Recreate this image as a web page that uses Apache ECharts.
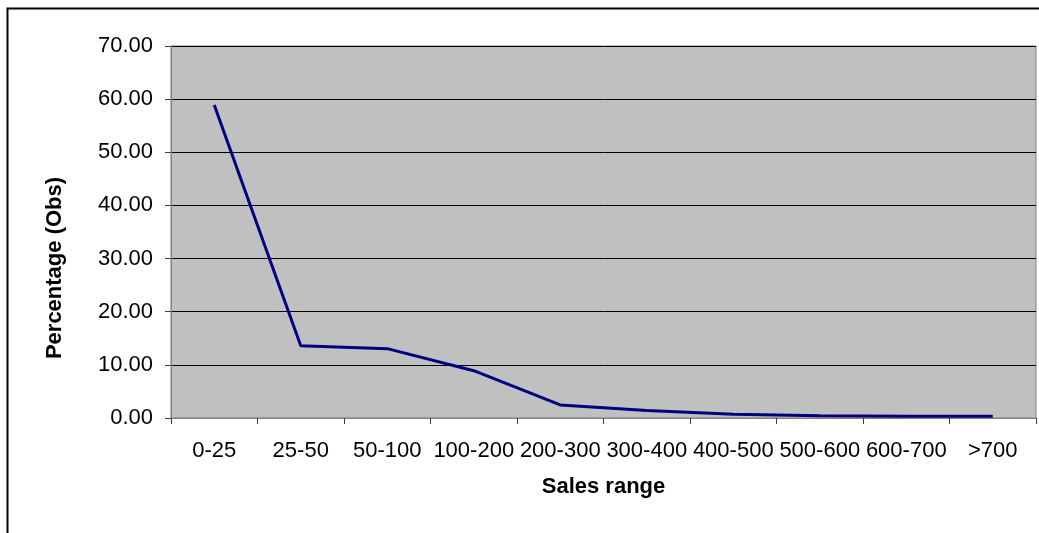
<!DOCTYPE html>
<html>
<head>
<meta charset="utf-8">
<script src="https://cdn.jsdelivr.net/npm/echarts@6/dist/echarts.min.js"></script>
<style>
html,body{margin:0;padding:0;background:#fff;}
#chart{width:1039px;height:533px;}
</style>
</head>
<body>
<div id="chart"></div>
<script>
// Share of observations per sales bracket
const categories = ['0-25','25-50','50-100','100-200','200-300','300-400','400-500','500-600','600-700','>700'];
const percentObs = [58.9, 13.6, 13.05, 8.9, 2.45, 1.4, 0.7, 0.4, 0.35, 0.35];
const yTicks = { min: 0, max: 70, interval: 10 };

const chart = echarts.init(document.getElementById('chart'));
const font = '"Liberation Sans", Arial, sans-serif';

chart.setOption({
  animation: false,
  graphic: [{
    type: 'rect',
    shape: { x: 7.5, y: 8.5, width: 1200, height: 800 },
    style: { fill: 'none', stroke: '#000', lineWidth: 2 },
    silent: true,
    z: -1
  }],
  grid: {
    left: 171, top: 46, right: 3, bottom: 115,
    show: true,
    backgroundColor: '#c0c0c0',
    borderColor: '#808080',
    borderWidth: 1
  },
  xAxis: {
    type: 'category',
    data: categories,
    boundaryGap: true,
    name: 'Sales range',
    nameLocation: 'middle',
    nameGap: 58,
    nameTextStyle: { fontFamily: font, fontSize: 22, fontWeight: 'bold', color: '#000' },
    axisLine: { lineStyle: { color: '#808080', width: 1 } },
    axisTick: { show: true, length: 6, alignWithLabel: false, lineStyle: { color: '#404040' } },
    axisLabel: { fontFamily: font, fontSize: 22, color: '#000', margin: 22, interval: 0 },
    splitLine: { show: false }
  },
  yAxis: {
    type: 'value',
    min: yTicks.min,
    max: yTicks.max,
    interval: yTicks.interval,
    name: 'Percentage (Obs)',
    nameLocation: 'middle',
    nameRotate: 90,
    nameGap: 105,
    nameTextStyle: {
      fontFamily: font, fontSize: 22, fontWeight: 'bold', color: '#000',
      padding: [0, 72, 0, 0]
    },
    axisLine: { show: true, lineStyle: { color: '#808080', width: 1 } },
    axisTick: { show: true, length: 6, lineStyle: { color: '#404040' } },
    axisLabel: {
      fontFamily: font, fontSize: 22, color: '#000', margin: 18,
      formatter: v => v.toFixed(2)
    },
    splitLine: { show: true, lineStyle: { color: '#000', width: 1 } }
  },
  series: [{
    type: 'line',
    data: percentObs,
    symbol: 'none',
    lineStyle: { color: '#000080', width: 3 },
    z: 3
  }]
});
</script>
</body>
</html>
